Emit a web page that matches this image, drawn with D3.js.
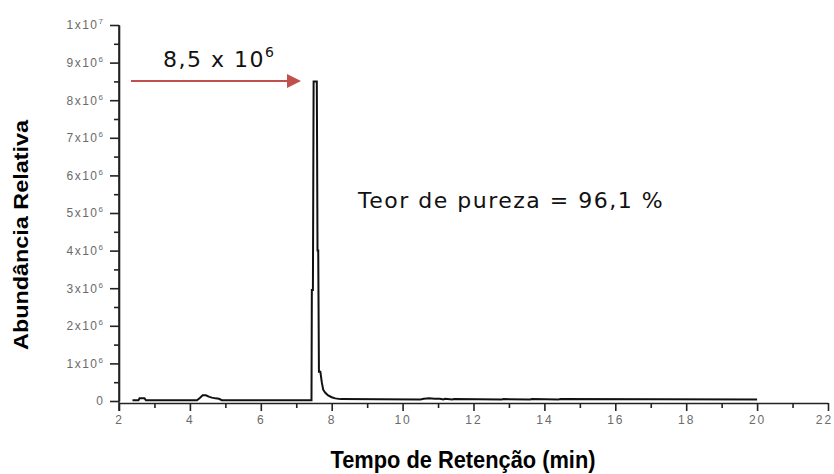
<!DOCTYPE html>
<html>
<head>
<meta charset="utf-8">
<script src="https://cdn.jsdelivr.net/npm/d3@7"></script>
<style>
  body { margin: 0; background: #fff; }
  svg { display: block; }
  .tick text { fill: #6a6a6a; font-family: "Liberation Sans", Arial, sans-serif; font-size: 12px; }
  .axis path, .axis line { stroke: #222; stroke-width: 1.6; }
</style>
</head>
<body>
<svg width="834" height="474"></svg>
<script>
// retention time (min) and relative abundance
var tempo = [2.38, 2.55, 2.58, 2.62, 2.72, 2.76, 2.85, 4.2, 4.28, 4.36, 4.45, 4.55, 4.62, 4.72, 4.82, 4.9,
  7.43, 7.44, 7.47, 7.49, 7.5, 7.58, 7.6, 7.62, 7.64, 7.68, 7.72, 7.76, 7.82, 7.9, 8.0, 8.1, 8.25,
  10.5, 10.6, 10.75, 10.9, 11.05, 11.15, 11.2, 11.4, 11.45, 12.8, 12.85, 13.6, 13.65, 14.4, 14.45, 20.0];
var abundancia = [2e4, 2e4, 7e4, 7e4, 7e4, 2e4, 2e4, 2e4, 8e4, 1.5e5, 1.5e5, 1.1e5, 9e4, 7e4, 6e4, 2e4,
  2e4, 2.95e6, 2.95e6, 8.5e6, 8.5e6, 8.5e6, 4.0e6, 4.0e6, 7.8e5, 7.8e5, 5e5, 3e5, 2.2e5, 1.5e5, 1e5, 7e4, 5e4,
  4e4, 6e4, 7e4, 6e4, 6e4, 4e4, 6e4, 4e4, 5e4, 4e4, 5e4, 4e4, 5e4, 4e4, 5e4, 4e4];

var xTicks = [2, 4, 6, 8, 10, 12, 14, 16, 18, 20, 22];
var yTicks = [0, 1e6, 2e6, 3e6, 4e6, 5e6, 6e6, 7e6, 8e6, 9e6, 1e7];

var svg = d3.select("svg");
var x = d3.scaleLinear().domain([2, 22]).range([119, 828]);
var y = d3.scaleLinear().domain([0, 1e7]).range([401, 25]);
var axisY = 403;

// x axis with minor ticks
svg.append("g")
  .attr("class", "axis")
  .attr("transform", "translate(0," + axisY + ")")
  .call(d3.axisBottom(x).tickValues(d3.range(3, 22, 2)).tickSize(5).tickFormat(""))
  .call(function(g) { g.select(".domain").remove(); });
svg.append("g")
  .attr("class", "axis")
  .attr("transform", "translate(0," + axisY + ")")
  .call(d3.axisBottom(x).tickValues(xTicks).tickSize(8).tickSizeOuter(0).tickPadding(4))
  .call(function(g) {
    g.selectAll(".tick text").attr("letter-spacing", "2px");
    g.selectAll(".tick text").filter(function(d) { return d === 22; }).attr("dx", "-4");
  });

// y axis
svg.append("g")
  .attr("class", "axis")
  .attr("transform", "translate(119,0)")
  .call(d3.axisLeft(y).tickValues(d3.range(5e5, 1e7, 1e6)).tickSize(5).tickFormat(""))
  .call(function(g) { g.select(".domain").remove(); });
svg.append("g")
  .attr("class", "axis")
  .attr("transform", "translate(119,0)")
  .call(d3.axisLeft(y).tickValues(yTicks).tickSize(9).tickSizeOuter(0).tickPadding(7).tickFormat(""))
  .call(function(g) {
    g.selectAll(".tick text").each(function(d) {
      var t = d3.select(this);
      if (d === 0) { t.text("0"); return; }
      var exp = Math.floor(Math.log10(d) + 1e-9);
      var m = Math.round(d / Math.pow(10, exp));
      t.append("tspan").attr("letter-spacing", "1.5px").text(m + "x10");
      t.append("tspan").attr("dy", "-5").style("font-size", "8px").text(exp);
    });
  });
svg.append("line")
  .attr("x1", 119).attr("x2", 119).attr("y1", y(1e7)).attr("y2", axisY + 8)
  .attr("stroke", "#222").attr("stroke-width", 1.6);

// chromatogram trace
var pts = tempo.map(function(t, i) { return [t, abundancia[i]]; });
svg.append("path")
  .datum(pts)
  .attr("fill", "none")
  .attr("stroke", "#111")
  .attr("stroke-width", 2)
  .attr("d", d3.line().x(function(d) { return x(d[0]); }).y(function(d) { return y(d[1]); }));

// annotations
var ann = svg.append("g").style("font-family", "'DejaVu Sans', Verdana, sans-serif").attr("fill", "#111");
var t1 = ann.append("text").attr("x", 163).attr("y", 67).style("font-size", "22px").attr("letter-spacing", "1.5px");
t1.append("tspan").text("8,5 x 10");
t1.append("tspan").attr("dy", "-10").style("font-size", "14px").text("6");
ann.append("text").attr("x", 358).attr("y", 208).style("font-size", "22px").attr("letter-spacing", "1.5px")
  .text("Teor de pureza = 96,1 %");

svg.append("defs").append("marker")
  .attr("id", "arr").attr("viewBox", "0 0 10 10").attr("refX", 0).attr("refY", 5)
  .attr("markerWidth", 7).attr("markerHeight", 7).attr("markerUnits", "strokeWidth").attr("orient", "auto")
  .append("path").attr("d", "M0,0L10,5L0,10Z").attr("fill", "#c0504d");
svg.append("line")
  .attr("x1", 131).attr("x2", 287).attr("y1", 81).attr("y2", 81)
  .attr("stroke", "#c0504d").attr("stroke-width", 2).attr("marker-end", "url(#arr)");

// axis titles
svg.append("text")
  .attr("transform", "translate(28,235) rotate(-90)")
  .attr("text-anchor", "middle")
  .style("font-family", "'Liberation Sans', Arial, sans-serif").style("font-weight", "bold").style("font-size", "21px")
  .attr("textLength", 230).attr("lengthAdjust", "spacingAndGlyphs")
  .text("Abundância Relativa");
svg.append("text")
  .attr("x", 463).attr("y", 468)
  .attr("text-anchor", "middle")
  .style("font-family", "'Liberation Sans Narrow', 'Liberation Sans', sans-serif")
  .style("font-weight", "bold").style("font-size", "23px")
  .attr("textLength", 265).attr("lengthAdjust", "spacingAndGlyphs")
  .text("Tempo de Retenção (min)");
</script>
</body>
</html>
